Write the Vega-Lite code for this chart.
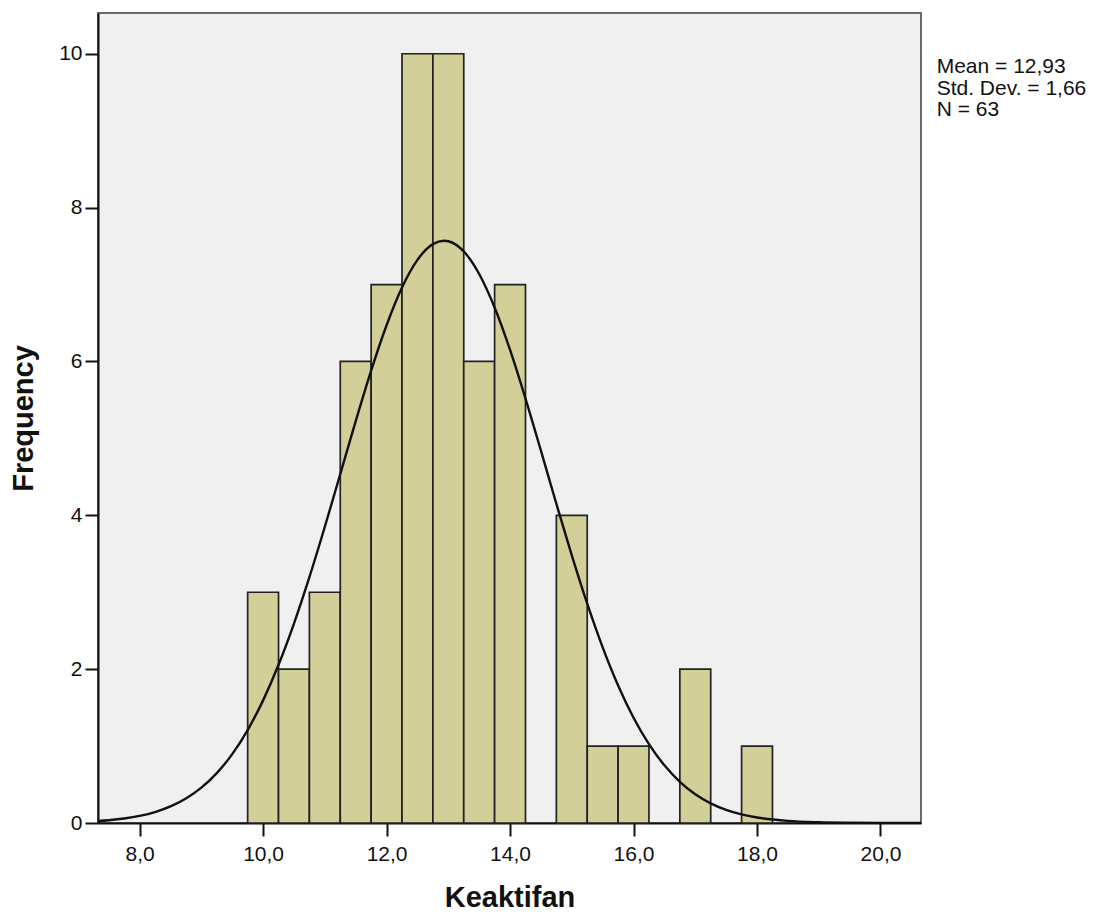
{
  "$schema": "https://vega.github.io/schema/vega-lite/v6.json",
  "autosize": {"type": "none"},
  "width": 823,
  "height": 810,
  "padding": {"left": 98, "top": 13, "right": 182, "bottom": 97},
  "background": "white",
  "datasets": {
    "bins": [
      {"start": 9.75, "end": 10.25, "count": 3},
      {"start": 10.25, "end": 10.75, "count": 2},
      {"start": 10.75, "end": 11.25, "count": 3},
      {"start": 11.25, "end": 11.75, "count": 6},
      {"start": 11.75, "end": 12.25, "count": 7},
      {"start": 12.25, "end": 12.75, "count": 10},
      {"start": 12.75, "end": 13.25, "count": 10},
      {"start": 13.25, "end": 13.75, "count": 6},
      {"start": 13.75, "end": 14.25, "count": 7},
      {"start": 14.75, "end": 15.25, "count": 4},
      {"start": 15.25, "end": 15.75, "count": 1},
      {"start": 15.75, "end": 16.25, "count": 1},
      {"start": 16.75, "end": 17.25, "count": 2},
      {"start": 17.75, "end": 18.25, "count": 1}
    ],
    "curve": [
      {"x": 7.25, "y": 0.0217}, {"x": 7.5, "y": 0.036}, {"x": 7.75, "y": 0.0582},
      {"x": 8.0, "y": 0.0919}, {"x": 8.25, "y": 0.1422}, {"x": 8.5, "y": 0.2151},
      {"x": 8.75, "y": 0.3179}, {"x": 9.0, "y": 0.4591}, {"x": 9.25, "y": 0.6485},
      {"x": 9.5, "y": 0.8952}, {"x": 9.75, "y": 1.2083}, {"x": 10.0, "y": 1.5942},
      {"x": 10.25, "y": 2.0565}, {"x": 10.5, "y": 2.593}, {"x": 10.75, "y": 3.196},
      {"x": 11.0, "y": 3.851}, {"x": 11.25, "y": 4.536}, {"x": 11.5, "y": 5.2233},
      {"x": 11.75, "y": 5.8801}, {"x": 12.0, "y": 6.4705}, {"x": 12.25, "y": 6.9608},
      {"x": 12.5, "y": 7.3203}, {"x": 12.75, "y": 7.5256}, {"x": 12.93, "y": 7.57},
      {"x": 13.0, "y": 7.5633}, {"x": 13.25, "y": 7.4306}, {"x": 13.5, "y": 7.1366},
      {"x": 13.75, "y": 6.7005}, {"x": 14.0, "y": 6.1498}, {"x": 14.25, "y": 5.518},
      {"x": 14.5, "y": 4.8401}, {"x": 14.75, "y": 4.1503}, {"x": 15.0, "y": 3.4789},
      {"x": 15.25, "y": 2.8508}, {"x": 15.5, "y": 2.2838}, {"x": 15.75, "y": 1.7884},
      {"x": 16.0, "y": 1.369}, {"x": 16.25, "y": 1.0245}, {"x": 16.5, "y": 0.7494},
      {"x": 16.75, "y": 0.5359}, {"x": 17.0, "y": 0.3747}, {"x": 17.25, "y": 0.256},
      {"x": 17.5, "y": 0.1711}, {"x": 17.75, "y": 0.1117}, {"x": 18.0, "y": 0.0714},
      {"x": 18.5, "y": 0.0272}, {"x": 19.0, "y": 0.0095}, {"x": 19.5, "y": 0.003},
      {"x": 20.0, "y": 0.0009}, {"x": 20.75, "y": 0.0001}
    ],
    "stats": [
      {"label": "Mean = 12,93", "x": 20.91, "y": 9.753},
      {"label": "Std. Dev. = 1,66", "x": 20.91, "y": 9.467},
      {"label": "N = 63", "x": 20.91, "y": 9.194}
    ]
  },
  "layer": [
    {
      "data": {"name": "bins"},
      "mark": {"type": "bar", "fill": "#D3CF98", "stroke": "#222222", "strokeWidth": 1.7},
      "encoding": {
        "x": {
          "field": "start",
          "type": "quantitative",
          "scale": {"domain": [7.326, 20.656], "nice": false, "zero": false},
          "axis": {
            "title": "Keaktifan",
            "values": [8, 10, 12, 14, 16, 18, 20],
            "labelExpr": "replace(format(datum.value, '.1f'), '.', ',')",
            "grid": false,
            "tickSize": 13,
            "labelPadding": 7,
            "titlePadding": 19
          }
        },
        "x2": {"field": "end"},
        "y": {
          "field": "count",
          "type": "quantitative",
          "scale": {"domain": [0, 10.53], "nice": false},
          "axis": {
            "title": "Frequency",
            "values": [0, 2, 4, 6, 8, 10],
            "format": "d",
            "grid": false,
            "tickSize": 13,
            "labelPadding": 3,
            "titlePadding": 20
          }
        },
        "y2": {"datum": 0}
      }
    },
    {
      "data": {"name": "curve"},
      "mark": {"type": "line", "color": "#111111", "strokeWidth": 2.4, "interpolate": "monotone", "clip": true},
      "encoding": {
        "x": {"field": "x", "type": "quantitative"},
        "y": {"field": "y", "type": "quantitative"}
      }
    },
    {
      "data": {"name": "stats"},
      "mark": {"type": "text", "align": "left", "baseline": "alphabetic", "fontSize": 21, "font": "Liberation Sans", "color": "#111111", "clip": false},
      "encoding": {
        "x": {"field": "x", "type": "quantitative"},
        "y": {"field": "y", "type": "quantitative"},
        "text": {"field": "label"}
      }
    }
  ],
  "config": {
    "view": {"fill": "#F0F0F0", "stroke": "#6a6a6a", "strokeWidth": 2},
    "axis": {
      "domainColor": "#111111",
      "domainWidth": 2,
      "tickColor": "#111111",
      "tickWidth": 2,
      "labelFont": "Liberation Sans",
      "labelFontSize": 21,
      "labelColor": "#111111",
      "titleFont": "Liberation Sans",
      "titleFontSize": 29,
      "titleFontWeight": "bold",
      "titleColor": "#111111"
    }
  }
}
